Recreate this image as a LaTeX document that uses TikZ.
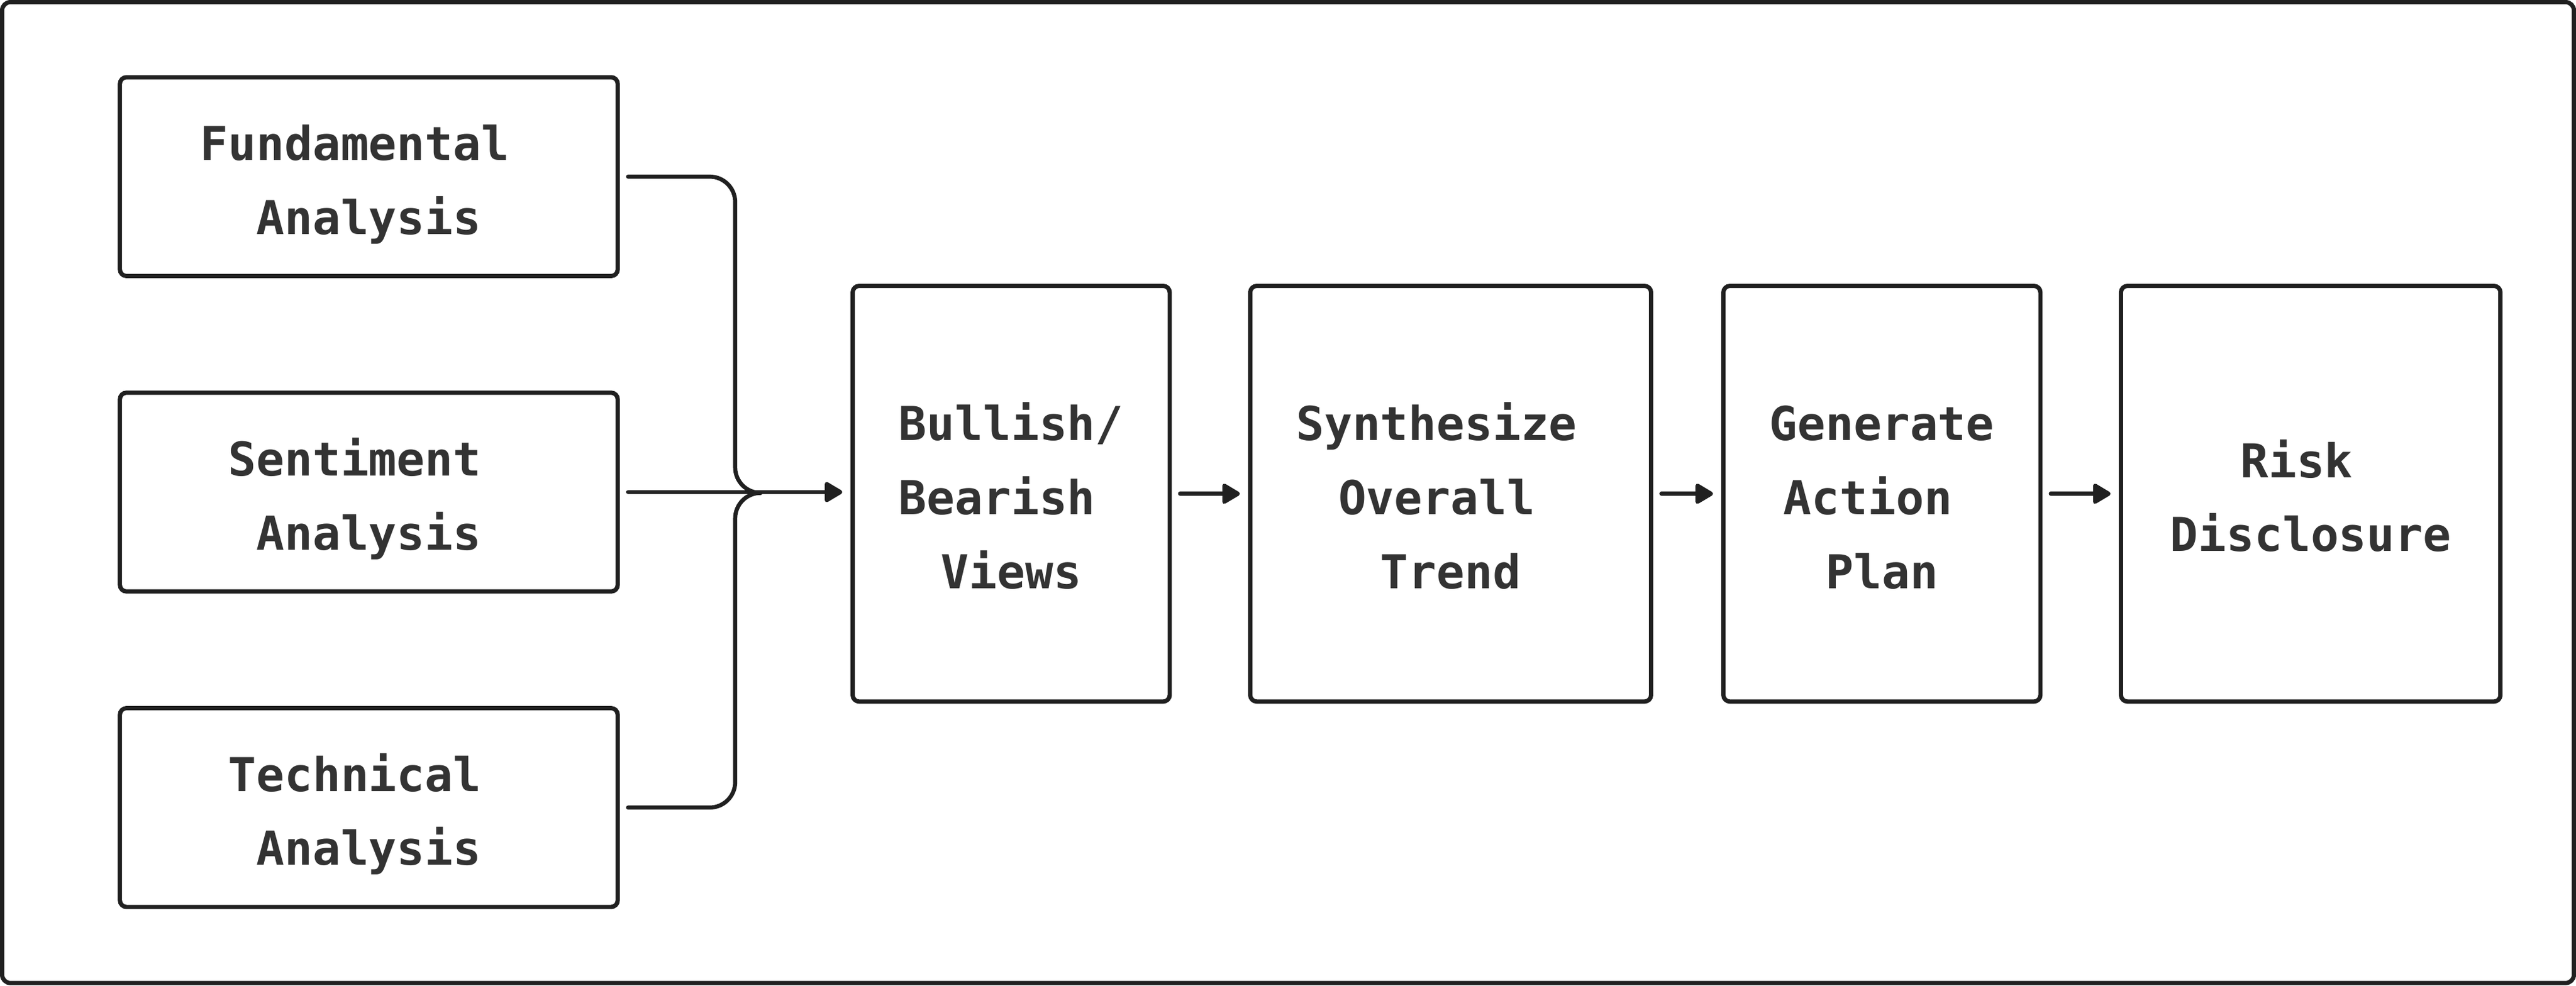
\documentclass[tikz,border=0pt]{standalone}
\usepackage{fontspec}
\setmonofont{DejaVu Sans Mono}
\usetikzlibrary{arrows.meta}
\definecolor{ink}{HTML}{202020}
\definecolor{inktext}{HTML}{333333}
\newcommand\pad{\hphantom{x}}
\begin{document}
\begin{tikzpicture}[x=1pt,y=-1pt,
    box/.style={draw=ink,line width=2.6pt,rounded corners=4pt,inner sep=0pt,
      text=inktext,align=center,font=\fontsize{28.4}{45}\selectfont\ttfamily\bfseries,
      text depth=0pt},
    two/.style={box,text height=70.2pt},
    three/.style={box,text height=115.2pt},
    link/.style={draw=ink,line width=2.5pt,line cap=round},
    arrow/.style={link,-{Triangle[length=12pt,width=13.5pt,round]}}]
      \useasboundingbox (0,0) rectangle (1568,600);
      \draw[ink,line width=2.6pt,rounded corners=5pt] (1.3,1.3) rectangle (1566.7,598.3);

      %%%%  Inputs
      \node[two,minimum width=303pt,minimum height=121pt] (fund) at (224.5,107.5) {Fundamental\pad\\Analysis};
      \node[two,minimum width=303pt,minimum height=121pt] (sent) at (224.5,299.5) {Sentiment\pad\\Analysis};
      \node[two,minimum width=303pt,minimum height=121pt] (tech) at (224.5,491.5) {Technical\pad\\Analysis};

      %%%%  Pipeline
      \node[three,minimum width=193pt,minimum height=253pt] (views) at (615.5,300.5) {Bullish/\\Bearish\pad\\Views};
      \node[three,minimum width=244pt,minimum height=253pt] (trend) at (883,300.5) {Synthesize\pad\\Overall\pad\\Trend};
      \node[three,minimum width=193pt,minimum height=253pt] (plan) at (1145.5,300.5) {Generate\\Action\pad\\Plan};
      \node[two,minimum width=231pt,minimum height=253pt] (risk) at (1406.5,300.5) {Risk\pad\\Disclosure};

      \coordinate (bend) at (447.5,300);
      \coordinate (join) at (463,300);

      \draw[link,rounded corners=15.5pt] ([xshift=5pt]fund.east) -| (bend) -- (join);
      \draw[link,rounded corners=15.5pt] ([xshift=5pt]tech.east) -| (bend) -- (join);
      \draw[arrow] ([xshift=5pt]sent.east) -- ([xshift=-5pt]sent.east -| views.west);

      \draw[arrow] ([xshift=5pt]views.east) -- ([xshift=-5pt]trend.west);
      \draw[arrow] ([xshift=5pt]trend.east) -- ([xshift=-5pt]plan.west);
      \draw[arrow] ([xshift=5pt]plan.east) -- ([xshift=-5pt]risk.west);
    \end{tikzpicture}
\end{document}
